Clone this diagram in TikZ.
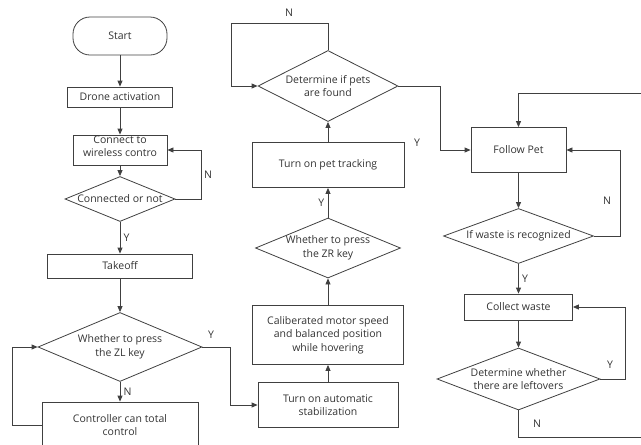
\documentclass[tikz,border=0pt]{standalone}
\usepackage{fontspec}
\setmainfont{Open Sans}
\usetikzlibrary{shapes.geometric,arrows.meta}
\definecolor{lineg}{RGB}{64,64,64}
\definecolor{textg}{RGB}{51,51,51}

\begin{document}
\begin{tikzpicture}[x=1pt, y=-1pt, font=\fontsize{10.5}{13.5}\selectfont, line width=0.8pt,
	box/.style={draw=lineg, rectangle, inner sep=0pt, align=center, text=textg},
	term/.style={box, rounded corners=17pt},
	dec/.style={draw=lineg, diamond, inner sep=0pt},
	lbl/.style={text=textg, align=center},
	arr/.style={draw=lineg, ->, >={Triangle[length=6pt, width=5pt]}}]
				\useasboundingbox (0,0) rectangle (641,445);
				\clip (0,0) rectangle (641,445);
				\node[term, minimum width=94, minimum height=38] (S)at(120, 36) {Start};
				\node[box, minimum width=105, minimum height=20] (DA)at(120, 97) {Drone activation};
				\node[box, minimum width=94, minimum height=30, label={[lbl, yshift=4pt]center:Connect to\\wireless contro}] (CW)at(120, 150) {};
				\node[dec, minimum width=110, minimum height=45, label={[lbl]center:Connected or not}] (CN)at(120, 199) {};
				\node[box, minimum width=145, minimum height=24] (TO)at(120, 266) {Takeoff};
				\node[dec, minimum width=164, minimum height=69, label={[lbl]center:Whether to press\\the ZL key}] (ZL)at(120, 347) {};
				\node[box, minimum width=156, minimum height=46] (CC)at(120, 425) {Controller can total\\control};
				\node[box, minimum width=140, minimum height=45] (AS)at(328, 405) {Turn on automatic\\stabilization};
				\node[box, minimum width=151, minimum height=59] (CM)at(328, 335) {Caliberated motor speed\\and balanced position\\while hovering};
				\node[dec, minimum width=145, minimum height=60, label={[lbl]center:Whether to press\\the ZR key}] (ZR)at(328, 248) {};
				\node[box, minimum width=152, minimum height=45] (PT)at(328, 165) {Turn on pet tracking};
				\node[dec, minimum width=140, minimum height=71, label={[lbl]center:Determine if pets\\are found}] (PF)at(328, 86) {};
				\node[box, minimum width=95, minimum height=45] (FP)at(518.5, 150) {Follow Pet};
				\node[dec, minimum width=150, minimum height=55, label={[lbl]center:If waste is recognized}] (WR)at(518.5, 236) {};
				\node[box, minimum width=108, minimum height=26] (CL)at(518.5, 307) {Collect waste};
				\node[dec, minimum width=163, minimum height=62, label={[lbl]center:Determine whether\\there are leftovers}] (LO)at(518.5, 379) {};
				\draw[arr] (S) -- (DA);
				\draw[arr] (DA) -- (CW);
				\draw[arr] (CW) -- (CN);
				\draw[arr] (CN.east) -- ++(26,0) |- (CW.east) node[lbl, pos=0.25, right=-1pt] {N};
				\draw[arr] (CN) -- (TO) node[lbl, midway, right] {Y};
				\draw[arr] (TO) -- (ZL);
				\draw[arr] (ZL) -- (CC) node[lbl, midway, right] {N};
				\draw[arr] (CC.west) -- ++(-29,0) |- (ZL.west);
				\draw[arr] (ZL.east) -- ++(28,0) |- (AS.west);
				\node[lbl] (YZL)at(211, 335) {Y};
				\draw[arr] (AS) -- (CM);
				\draw[arr] (CM) -- (ZR);
				\draw[arr] (ZR) -- (PT) node[lbl, midway, left] {Y};
				\draw[arr] (PT) -- (PF);
				\draw[arr] (PF.north) -- ++(0,-27) -| ([xshift=-26]PF.west) -- (PF.west);
				\node[lbl] (NPF)at(289, 13) {N};
				\draw[arr] (PF.east) -- ++(42,0) |- (FP.west);
				\node[lbl] (YPF)at(417, 143) {Y};
				\draw[arr] (FP) -- (WR);
				\draw[arr] (WR.east) -- ++(26,0) |- (FP.east);
				\node[lbl] (NWR)at(607, 201) {N};
				\draw[arr] (WR) -- (CL) node[lbl, midway, right] {Y};
				\draw[arr] (CL) -- (LO);
				\draw[arr] (LO.east) -- ++(25,0) |- (CL.east);
				\node[lbl] (YLO)at(610, 365) {Y};
				\draw[arr] (LO.south) |- (660, 437) -- (660, 93) -| (FP.north);
				\node[lbl] (NLO)at(537, 424) {N};
			\end{tikzpicture}
\end{document}
